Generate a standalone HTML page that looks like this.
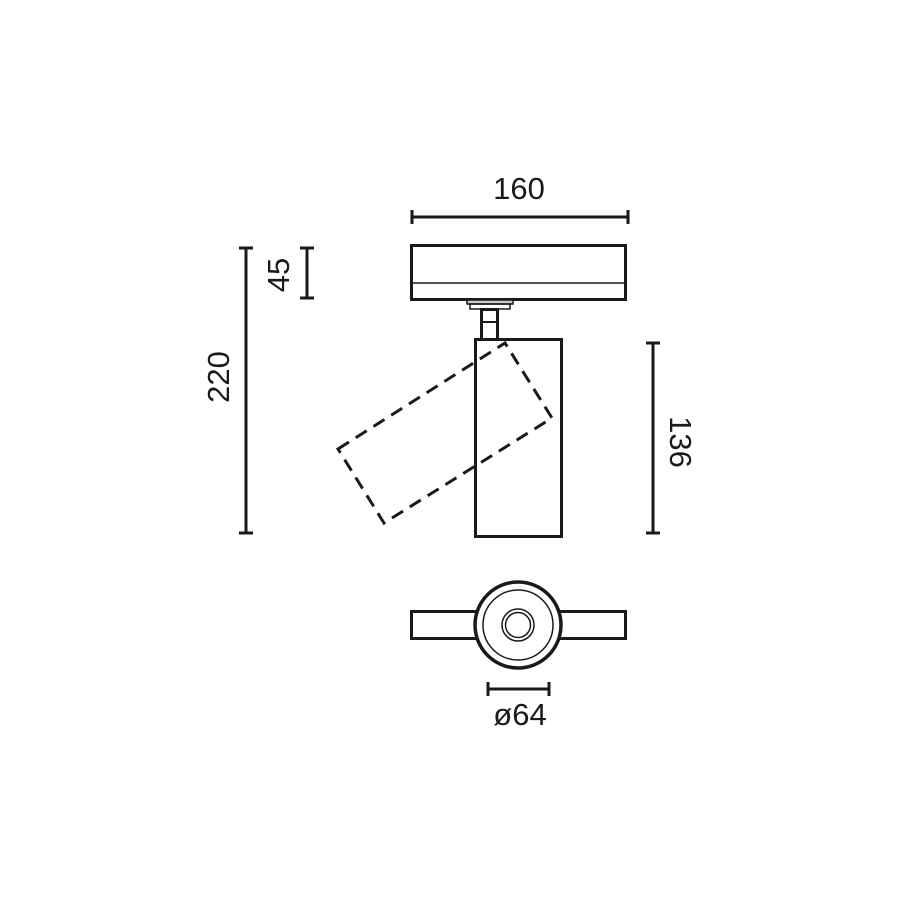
<!DOCTYPE html>
<html><head><meta charset="utf-8"><style>
html,body{margin:0;padding:0;background:#fff;}
svg{display:block;}
text{font-family:"Liberation Sans",sans-serif;font-size:31px;fill:#1a1a1a;}
</style></head><body>
<svg width="900" height="900" viewBox="0 0 900 900" xmlns="http://www.w3.org/2000/svg">
<g stroke="#1a1a1a" fill="none" stroke-width="3">
  <rect x="411.5" y="245.5" width="214" height="54"/>
  <line x1="412" y1="283" x2="625" y2="283" stroke-width="1.5"/>
  <rect x="467" y="300" width="46" height="4" stroke-width="1.5" fill="#ccc"/>
  <rect x="470" y="304" width="40" height="5" stroke-width="1.5"/>
  <rect x="481.5" y="309.5" width="16" height="30"/>
  <line x1="482" y1="322" x2="497" y2="322" stroke-width="2"/>
  <rect x="475.5" y="339.5" width="86" height="197"/>
  <polygon points="338,449 505,343 552,418 384,523" stroke-dasharray="13,8"/>
  <rect x="411.5" y="611.5" width="214" height="27" fill="#fff"/>
  <circle cx="518" cy="625" r="43" fill="#fff" stroke-width="3.5"/>
  <circle cx="518" cy="625" r="35" stroke-width="1.5"/>
  <circle cx="518" cy="625" r="16" stroke-width="1.5"/>
  <circle cx="518" cy="625" r="12.5" stroke-width="1.5"/>
  <line x1="412" y1="217" x2="628" y2="217"/>
  <line x1="412" y1="210" x2="412" y2="224"/>
  <line x1="628" y1="210" x2="628" y2="224"/>
  <line x1="307" y1="248" x2="307" y2="298"/>
  <line x1="300" y1="248" x2="314" y2="248"/>
  <line x1="300" y1="298" x2="314" y2="298"/>
  <line x1="246" y1="248" x2="246" y2="533"/>
  <line x1="239" y1="248" x2="253" y2="248"/>
  <line x1="239" y1="533" x2="253" y2="533"/>
  <line x1="653" y1="343" x2="653" y2="533"/>
  <line x1="646" y1="343" x2="660" y2="343"/>
  <line x1="646" y1="533" x2="660" y2="533"/>
  <line x1="488" y1="689" x2="549" y2="689"/>
  <line x1="488" y1="682" x2="488" y2="696"/>
  <line x1="549" y1="682" x2="549" y2="696"/>
</g>
<text x="519" y="199" text-anchor="middle">160</text>
<text transform="translate(289,275) rotate(-90)" text-anchor="middle">45</text>
<text transform="translate(229,377) rotate(-90)" text-anchor="middle">220</text>
<text transform="translate(670,442) rotate(90)" text-anchor="middle">136</text>
<text x="520" y="725" text-anchor="middle">ø64</text>
</svg>
</body></html>
